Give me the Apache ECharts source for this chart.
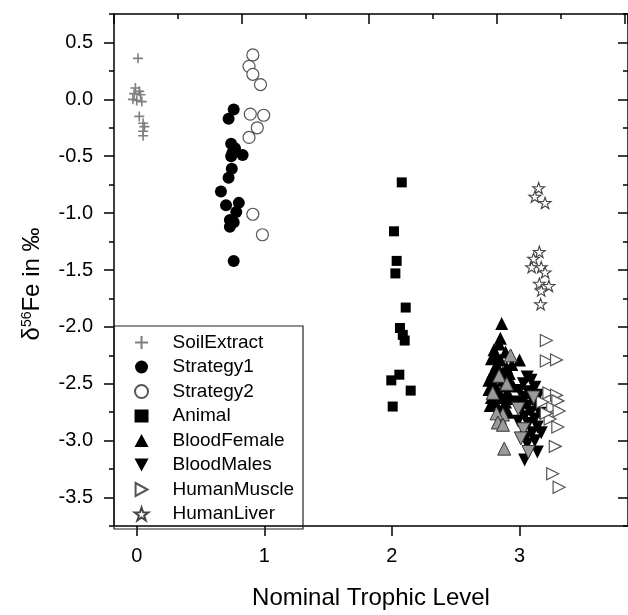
<!DOCTYPE html>
<html><head><meta charset="utf-8">
<script src="https://cdn.jsdelivr.net/npm/echarts@6/dist/echarts.min.js"></script>
<style>html,body{margin:0;padding:0;background:#fff}#c{width:628px;height:615px}</style>
</head><body><div id="c"></div>
<script>
const seriesNames = ['SoilExtract','Strategy1','Strategy2','Animal','BloodFemale','BloodMales','HumanMuscle','HumanLiver'];
const xTickValues = [0, 1, 2, 3];
const yTickValues = [-3.5, -3, -2.5, -2, -1.5, -1, -0.5, 0, 0.5];

const soilExtract = [[0.01,0.36],[-0.01,0.10],[0.02,0.07],[-0.02,0.05],[0.03,0.04],[-0.03,0.00],[0.00,-0.01],[0.04,-0.02],[0.02,-0.15],[0.05,-0.21],[0.06,-0.24],[0.05,-0.28],[0.05,-0.32]];
const strategy1 = [[0.76,-0.09],[0.72,-0.17],[0.74,-0.39],[0.77,-0.43],[0.75,-0.47],[0.74,-0.50],[0.83,-0.49],[0.745,-0.61],[0.72,-0.69],[0.66,-0.81],[0.70,-0.93],[0.80,-0.91],[0.78,-0.99],[0.73,-1.06],[0.76,-1.08],[0.73,-1.12],[0.76,-1.42]];
const strategy2 = [[0.91,0.39],[0.88,0.29],[0.91,0.22],[0.97,0.13],[0.89,-0.13],[0.995,-0.14],[0.945,-0.25],[0.88,-0.335],[0.91,-1.01],[0.985,-1.19]];
const animal = [[2.077,-0.73],[2.016,-1.16],[2.037,-1.42],[2.027,-1.53],[2.108,-1.83],[2.063,-2.01],[2.085,-2.07],[2.10,-2.12],[2.058,-2.42],[1.995,-2.47],[2.147,-2.56],[2.006,-2.70]];
const bloodFemale = [[2.86,-1.97],[2.85,-2.10],[2.84,-2.15],[2.80,-2.20],[2.89,-2.22],[2.78,-2.28],[2.85,-2.29],[3.00,-2.29],[2.82,-2.33],[2.90,-2.36],[2.87,-2.40],[2.78,-2.43],[2.84,-2.44],[2.92,-2.47],[2.80,-2.50],[2.88,-2.52],[2.76,-2.55],[2.83,-2.56],[2.90,-2.58],[2.78,-2.62],[2.86,-2.62],[2.93,-2.63],[2.81,-2.66],[2.77,-2.69],[2.88,-2.70],[2.84,-2.73],[2.91,-2.75],[2.79,-2.40],[2.94,-2.33],[2.81,-2.25],[2.87,-2.47],[2.83,-2.38],[2.89,-2.66],[2.76,-2.47],[2.95,-2.52],[2.85,-2.80],[2.80,-2.58],[2.92,-2.41]];
const bloodFemaleGray = [[2.93,-2.25],[2.84,-2.43],[2.87,-2.77],[2.82,-2.76],[2.83,-2.84],[2.87,-2.86],[2.88,-3.07],[2.79,-2.58],[2.90,-2.50]];
const bloodMales = [[3.06,-2.44],[3.09,-2.47],[3.03,-2.50],[3.12,-2.53],[3.00,-2.56],[3.07,-2.57],[3.15,-2.60],[3.04,-2.62],[3.10,-2.64],[2.98,-2.66],[3.13,-2.68],[3.06,-2.70],[3.01,-2.73],[3.09,-2.75],[3.16,-2.76],[3.04,-2.79],[3.12,-2.81],[2.99,-2.83],[3.07,-2.85],[3.14,-2.88],[3.03,-2.90],[3.10,-2.93],[3.17,-2.93],[3.05,-2.97],[3.12,-3.00],[3.06,-3.03],[3.14,-3.10],[3.04,-3.17],[3.08,-2.60],[3.02,-2.68]];
const bloodMalesGray = [[2.99,-2.72],[3.03,-2.90],[3.07,-3.10],[3.11,-2.62],[3.01,-2.98]];
const humanMuscle = [[3.21,-2.12],[3.21,-2.30],[3.29,-2.29],[3.23,-2.58],[3.29,-2.60],[3.30,-2.65],[3.26,-2.71],[3.31,-2.74],[3.24,-2.81],[3.30,-2.88],[3.28,-3.05],[3.26,-3.29],[3.31,-3.41],[3.18,-2.66],[3.21,-2.76]];
const humanLiver = [[3.15,-0.78],[3.12,-0.855],[3.20,-0.91],[3.155,-1.34],[3.11,-1.40],[3.095,-1.475],[3.17,-1.475],[3.20,-1.52],[3.155,-1.62],[3.23,-1.64],[3.17,-1.68],[3.165,-1.80]];

const FONT = '"Liberation Sans", Arial, sans-serif';
const PLUS = 'path://M4.2,0H5.8V4.2H10V5.8H5.8V10H4.2V5.8H0V4.2H4.2Z';
const STAR = 'path://M50,0L61.8,35.5L100,36.2L69.1,59.5L80.9,95.1L50,73.5L19.1,95.1L30.9,59.5L0,36.2L38.2,35.5Z';
const TRI_DOWN = 'path://M0,0L12,0L6,11Z';
const TRI_RIGHT = 'path://M0,0L11,6L0,12Z';
const X_MIN = -0.178, X_MAX = 3.85, Y_MIN = -3.75, Y_MAX = 0.75;
const lineStyle = {color: '#000', width: 1.5};
const axisLine = {show: true, onZero: false, lineStyle: lineStyle};
const noLine = {show: false, onZero: false};
const legendIcons = {BloodMales: TRI_DOWN, HumanMuscle: TRI_RIGHT};

const chart = echarts.init(document.getElementById('c'), null, {renderer: 'canvas'});
function sc(name, data, symbol, size, itemStyle, extra) {
  return Object.assign({name: name, type: 'scatter', data: data, symbol: symbol, symbolSize: size,
    symbolKeepAspect: true, itemStyle: Object.assign({opacity: 1}, itemStyle), emphasis: {disabled: true}}, extra || {});
}
const option = {
  animation: false,
  backgroundColor: '#fff',
  grid: {left: 114, top: 14, right: 0, bottom: 86},
  xAxis: [
    {type: 'value', position: 'bottom', min: X_MIN, max: X_MAX, axisLine: axisLine, splitLine: {show: false},
     axisTick: {show: true, length: 10, customValues: xTickValues, lineStyle: lineStyle},
     axisLabel: {customValues: xTickValues, margin: 20, fontSize: 20, color: '#000', fontFamily: FONT,
                 formatter: function (v) { return String(Math.round(v)); }},
     name: 'Nominal Trophic Level', nameLocation: 'middle', nameGap: 60,
     nameTextStyle: {fontSize: 24, color: '#000', fontFamily: FONT}},
    {type: 'value', position: 'top', min: 0, max: X_MAX - X_MIN, interval: 1, axisLine: axisLine,
     splitLine: {show: false}, axisLabel: {show: false},
     axisTick: {show: true, inside: true, length: 10, lineStyle: lineStyle},
     minorTick: {show: true, splitNumber: 2, length: 5, lineStyle: lineStyle}}
  ],
  yAxis: [
    {type: 'value', position: 'left', min: Y_MIN, max: Y_MAX, axisLine: axisLine, splitLine: {show: false},
     axisTick: {show: true, length: 10, customValues: yTickValues, lineStyle: lineStyle},
     axisLabel: {customValues: yTickValues, margin: 21, fontSize: 20, color: '#000', fontFamily: FONT,
                 formatter: function (v) { return v.toFixed(1); }},
     name: '{a|δ}{s|56}{a|Fe in ‰}', nameLocation: 'middle', nameGap: 70,
     nameTextStyle: {padding: [0, 28, 0, 0], rich: {
       a: {fontSize: 24, color: '#000', fontFamily: FONT},
       s: {fontSize: 14, color: '#000', fontFamily: FONT, verticalAlign: 'top'}}}},
    {type: 'value', position: 'left', min: Y_MIN, max: Y_MAX, interval: 0.25, axisLine: noLine,
     splitLine: {show: false}, axisLabel: {show: false},
     axisTick: {show: true, length: 5, lineStyle: lineStyle}},
    {type: 'value', position: 'right', min: Y_MIN, max: Y_MAX, axisLine: axisLine, splitLine: {show: false},
     axisLabel: {show: false},
     axisTick: {show: true, inside: true, length: 10, customValues: yTickValues, lineStyle: lineStyle}},
    {type: 'value', position: 'right', min: Y_MIN, max: Y_MAX, interval: 0.25, axisLine: noLine,
     splitLine: {show: false}, axisLabel: {show: false},
     axisTick: {show: true, inside: true, length: 5, lineStyle: lineStyle}}
  ],
  legend: {orient: 'vertical', left: 133.7, top: 333, itemWidth: 14, itemHeight: 13, itemGap: 5.5,
    padding: 0, selectedMode: false,
    data: seriesNames.map(function (n) {
      return legendIcons[n] ? {name: n, icon: legendIcons[n]} : {name: n};
    }),
    textStyle: {fontSize: 19, color: '#000', fontFamily: FONT, padding: [0, 0, 0, 19]}},
  graphic: [{type: 'rect', shape: {x: 114, y: 326, width: 189, height: 203},
    style: {fill: 'none', stroke: '#222', lineWidth: 1.2}, silent: true, z: 10}],
  series: [
    sc('SoilExtract', soilExtract, PLUS, 10, {color: '#808080'}),
    sc('Strategy1', strategy1, 'circle', 12, {color: '#000'}),
    sc('Strategy2', strategy2, 'circle', 12, {color: '#fff', borderColor: '#555', borderWidth: 1.2}),
    sc('Animal', animal, 'rect', 10, {color: '#000'}),
    sc('BloodFemale', bloodFemale, 'triangle', 13, {color: '#000'}),
    sc('BloodMales', bloodMales, 'triangle', 13, {color: '#000'}, {symbolRotate: 180}),
    sc('HumanMuscle', humanMuscle, 'triangle', 12, {color: '#fff', borderColor: '#555', borderWidth: 1.2}, {symbolRotate: -90}),
    sc('HumanLiver', humanLiver, STAR, 12, {color: '#fff', borderColor: '#444', borderWidth: 1.1}),
    sc('BloodFemaleGray', bloodFemaleGray, 'triangle', 13, {color: '#9a9a9a', borderColor: '#333', borderWidth: 1}),
    sc('BloodMalesGray', bloodMalesGray, 'triangle', 13, {color: '#9a9a9a', borderColor: '#333', borderWidth: 1}, {symbolRotate: 180})
  ]
};
chart.setOption(option);
</script></body></html>
